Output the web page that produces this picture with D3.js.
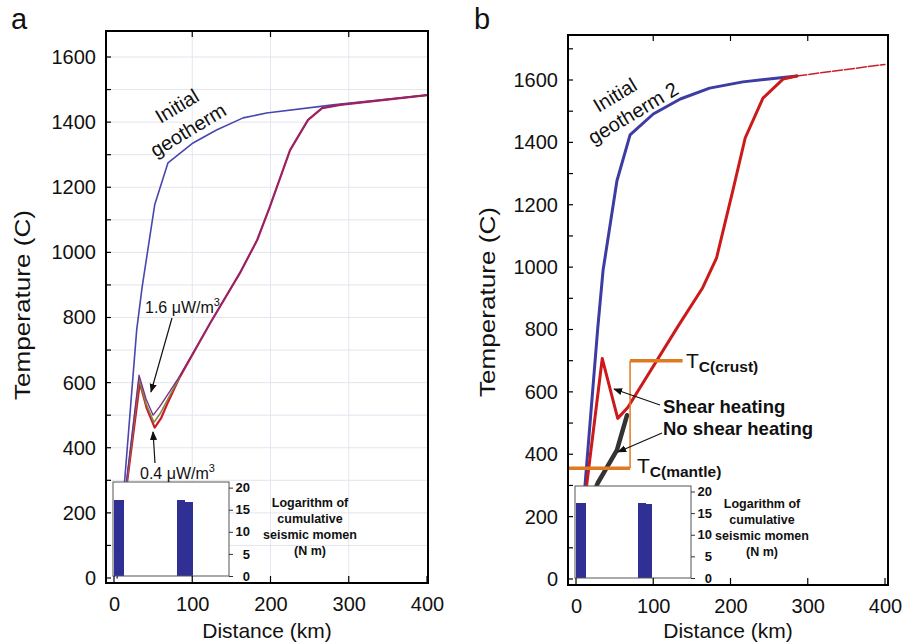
<!DOCTYPE html>
<html><head><meta charset="utf-8">
<script src="https://cdn.jsdelivr.net/npm/d3@7"></script>
<style>body{margin:0;background:#fff}svg{display:block}text{font-family:"Liberation Sans",Arial,Helvetica,sans-serif}</style>
</head><body>
<svg id="chart" width="905" height="644"></svg>
<script>
// ---------- data ----------
const distanceTicks = [0, 100, 200, 300, 400];
const temperatureTicks = [0, 200, 400, 600, 800, 1000, 1200, 1400, 1600];
const insetTicks = [0, 5, 10, 15, 20];
const insetLabelLines = ["Logarithm of", "cumulative", "seismic momen", "(N m)"];

// Panel a
const aInitialDist = [4, 14, 29, 36, 52, 69, 101, 131, 165, 195, 280, 400];
const aInitialTemp = [0, 310, 762, 894, 1146, 1275, 1336, 1376, 1413, 1428, 1453, 1483];
const aLowDist = [14, 17, 33, 42, 52, 60, 69, 84, 123, 161, 183, 199, 225, 248, 266, 289, 400];
const aLowTemp = [240, 300, 599, 520, 462, 490, 540, 617, 783, 937, 1038, 1139, 1314, 1407, 1443, 1453, 1483];
const aMidDist = [15, 17, 32, 41, 51, 59, 69, 84];
const aMidTemp = [260, 310, 610, 535, 478, 505, 550, 617];
const aHighDist = [14, 17, 32, 41, 50, 58, 69, 84, 123, 161, 183, 199, 225, 248, 266, 289, 400];
const aHighTemp = [250, 320, 623, 550, 500, 525, 565, 620, 783, 937, 1038, 1139, 1314, 1407, 1443, 1453, 1483];
const aBarStart = [0, 81, 90];
const aBarEnd = [12, 90, 100];
const aBarValue = [17.1, 17.1, 16.8];

// Panel b
const bInitialDist = [10, 28, 35, 53, 70, 100, 135, 173, 216, 286];
const bInitialTemp = [250, 800, 989, 1277, 1424, 1491, 1539, 1574, 1594, 1613];
const bShearDist = [12, 34, 54, 67, 132, 164, 182, 203, 219, 242, 268, 286];
const bShearTemp = [265, 707, 515, 550, 810, 934, 1030, 1245, 1414, 1542, 1603, 1613];
const bExtDist = [286, 400];
const bExtTemp = [1613, 1650];
const bNoShearDist = [22, 28, 40, 53, 66];
const bNoShearTemp = [270, 307, 358, 413, 525];
const tcCrust = 700;
const tcMantle = 355;
const tcSwitchDist = 70;
const tcCrustEndDist = 138;
const bBarStart = [0, 80, 90];
const bBarEnd = [12, 90, 98];
const bBarValue = [17.3, 17.3, 17.0];

// ---------- drawing ----------
const svg = d3.select("#chart");
svg.append("rect").attr("width", 905).attr("height", 644).attr("fill", "#fff");
const defs = svg.append("defs");
defs.append("marker").attr("id", "arr").attr("viewBox", "0 0 10 10")
  .attr("refX", 9).attr("refY", 5).attr("markerWidth", 9).attr("markerHeight", 9)
  .attr("markerUnits", "userSpaceOnUse").attr("orient", "auto")
  .append("path").attr("d", "M0,1 L10,5 L0,9 Z").attr("fill", "#111");

function zip(xs, ys) { return xs.map((d, i) => [d, ys[i]]); }

function panel(cfg) {
  const g = svg.append("g");
  const x = d3.scaleLinear().domain([0, 400]).range(cfg.xr);
  const y = d3.scaleLinear().domain([0, 1600]).range(cfg.yr);
  const F = cfg.frame; // [left, top, right, bottom]
  const line = d3.line().x(d => x(d[0])).y(d => y(d[1]));

  if (cfg.grid) {
    const gg = g.append("g").attr("stroke", "#e3e5ef").attr("stroke-width", 1);
    d3.range(100, 1700, 100).forEach(t => gg.append("line").attr("x1", F[0]).attr("x2", F[2]).attr("y1", y(t)).attr("y2", y(t)));
    [100, 200, 300].forEach(d => gg.append("line").attr("x1", x(d)).attr("x2", x(d)).attr("y1", F[1]).attr("y2", F[3]));
  }
  const clipId = "clip" + cfg.id;
  defs.append("clipPath").attr("id", clipId).append("rect")
    .attr("x", F[0]).attr("y", F[1]).attr("width", F[2] - F[0]).attr("height", F[3] - F[1]);
  const lg = g.append("g").attr("clip-path", `url(#${clipId})`);
  cfg.series.forEach(s => {
    lg.append("path").attr("d", line(zip(s.x, s.y))).attr("fill", "none")
      .attr("stroke", s.color).attr("stroke-width", s.w)
      .attr("stroke-dasharray", s.dash || null)
      .attr("stroke-linejoin", "round").attr("stroke-linecap", "round");
  });
  if (cfg.extra) cfg.extra(lg, x, y);

  // inset
  const I = cfg.inset; // [left, top, right, bottom]
  const iy = d3.scaleLinear().domain([0, 20]).range([I[3], I[1] + (I[3] - I[1]) * 0.06]);
  const ig = g.append("g");
  ig.append("rect").attr("x", I[0]).attr("y", I[1]).attr("width", I[2] - I[0]).attr("height", I[3] - I[1])
    .attr("fill", "#fff");
  ig.selectAll("rect.bar").data(cfg.bars.s.map((d, i) => ({ s: d, e: cfg.bars.e[i], v: cfg.bars.v[i] })))
    .join("rect").attr("class", "bar").attr("shape-rendering", "crispEdges")
    .attr("x", d => Math.max(I[0], x(d.s))).attr("width", d => x(d.e) - Math.max(I[0], x(d.s)) + 0.5)
    .attr("y", d => iy(d.v)).attr("height", d => I[3] - iy(d.v)).attr("fill", "#2f2f94");
  ig.append("rect").attr("x", I[0]).attr("y", I[1]).attr("width", I[2] - I[0]).attr("height", I[3] - I[1])
    .attr("fill", "none").attr("stroke", "#555").attr("stroke-width", 1);
  const iaxis = d3.axisRight(iy).tickValues(insetTicks).tickSize(4).tickPadding(cfg.insetPad);
  const ia = ig.append("g").attr("transform", `translate(${I[2]},0)`).call(iaxis);
  ia.select(".domain").remove();
  ia.selectAll("text").attr("text-anchor", "end").attr("font-size", 13).attr("font-weight", "bold")
    .attr("font-family", "Liberation Sans, Arial, sans-serif").attr("fill", "#111");
  ia.selectAll("line").attr("stroke", "#333");
  const it = ig.append("text").attr("text-anchor", "middle").attr("font-size", 12.5).attr("font-weight", "bold").attr("fill", "#111");
  insetLabelLines.forEach((l, i) => it.append("tspan").attr("x", cfg.insetText[0]).attr("y", cfg.insetText[1] + i * 16).text(l));

  // frame
  g.append("rect").attr("x", F[0]).attr("y", F[1]).attr("width", F[2] - F[0]).attr("height", F[3] - F[1])
    .attr("fill", "none").attr("stroke", "#000").attr("stroke-width", 2);
  // ticks inward
  const tg = g.append("g").attr("stroke", "#000").attr("stroke-width", 1.2);
  d3.range(0, 1800, 100).filter(t => y(t) > F[1] + 2 && y(t) < F[3] - 1).forEach(t =>
    tg.append("line").attr("x1", F[0]).attr("x2", F[0] + 5).attr("y1", y(t)).attr("y2", y(t)));
  distanceTicks.forEach(d => {
    tg.append("line").attr("x1", x(d)).attr("x2", x(d)).attr("y1", F[3]).attr("y2", F[3] - 7);
    if (d > 0 && d < 400) tg.append("line").attr("x1", x(d)).attr("x2", x(d)).attr("y1", F[1]).attr("y2", F[1] + 6);
  });
  // axes labels via d3 axes (domain/ticks hidden)
  const xa = g.append("g").attr("transform", `translate(0,${F[3]})`)
    .call(d3.axisBottom(x).tickValues(distanceTicks).tickSize(0).tickPadding(cfg.xPad).tickFormat(d3.format("d")));
  const ya = g.append("g").attr("transform", `translate(${F[0]},0)`)
    .call(d3.axisLeft(y).tickValues(temperatureTicks).tickSize(0).tickPadding(cfg.yPad).tickFormat(d3.format("d")));
  [xa, ya].forEach(a => {
    a.select(".domain").remove();
    a.selectAll("text").attr("font-size", 20).attr("fill", "#111").attr("font-family", "Liberation Sans, Arial, sans-serif");
  });
  g.append("text").attr("x", (F[0] + F[2]) / 2 + cfg.xTitleDx).attr("y", 638).attr("text-anchor", "middle")
    .attr("font-size", 21).attr("fill", "#111").text("Distance (km)");
  g.append("text").attr("transform", `translate(${cfg.yTitleX},${cfg.yTitleY}) rotate(-90)`).attr("text-anchor", "middle")
    .attr("font-size", 22).attr("textLength", 190).attr("lengthAdjust", "spacingAndGlyphs")
    .attr("fill", "#111").text("Temperature (C)");
  g.append("text").attr("x", cfg.letter[0]).attr("y", cfg.letter[1]).attr("font-size", 29).attr("fill", "#111").text(cfg.id);
  if (cfg.annot) cfg.annot(g, x, y);
}

function rotLabel(g, cx, cy, ang, txt, fs) {
  g.append("text").attr("transform", `translate(${cx},${cy}) rotate(${ang})`).attr("text-anchor", "middle")
    .attr("dy", "0.35em").attr("font-size", fs).attr("fill", "#111").text(txt);
}
function arrow(g, x1, y1, x2, y2) {
  g.append("line").attr("x1", x1).attr("y1", y1).attr("x2", x2).attr("y2", y2)
    .attr("stroke", "#111").attr("stroke-width", 1.2).attr("marker-end", "url(#arr)");
}
function tcLabel(g, x0, yb, sub) {
  const t = g.append("text").attr("x", x0).attr("y", yb).attr("fill", "#111");
  t.append("tspan").attr("font-size", 21).text("T");
  t.append("tspan").attr("font-size", 15.5).attr("font-weight", "bold").attr("dy", 4).text(sub);
}

panel({
  id: "a", xr: [114, 427], yr: [578, 57], frame: [106, 31, 428, 583], grid: true,
  inset: [113, 482, 229, 576], insetPad: 17, insetText: [310, 507],
  bars: { s: aBarStart, e: aBarEnd, v: aBarValue },
  xPad: 14, yPad: 10, xTitleDx: 0, yTitleX: 30, yTitleY: 305, letter: [11, 29],
  series: [
    { x: aInitialDist, y: aInitialTemp, color: "#4747ad", w: 1.6 },
    { x: aLowDist, y: aLowTemp, color: "#d0182a", w: 2.2 },
    { x: aMidDist, y: aMidTemp, color: "#7d8a3c", w: 1.6 },
    { x: aHighDist, y: aHighTemp, color: "#7a2a8a", w: 1.3 }
  ],
  annot: (g, x, y) => {
    rotLabel(g, 177, 106, -31, "Initial", 20);
    rotLabel(g, 188, 130, -31, "geotherm", 20);
    const t1 = g.append("text").attr("x", 145).attr("y", 313).attr("font-size", 16).attr("fill", "#111");
    t1.append("tspan").text("1.6 μW/m"); t1.append("tspan").attr("font-size", 11).attr("dy", -7).text("3");
    const t2 = g.append("text").attr("x", 140).attr("y", 479).attr("font-size", 16).attr("fill", "#111");
    t2.append("tspan").text("0.4 μW/m"); t2.append("tspan").attr("font-size", 11).attr("dy", -7).text("3");
    arrow(g, 172, 318, 151, 392);
    arrow(g, 155, 463, 153, 432);
  }
});

panel({
  id: "b", xr: [576, 885], yr: [579, 80], frame: [568, 35, 888, 585], grid: false,
  inset: [575, 486, 691, 578], insetPad: 17, insetText: [762, 508],
  bars: { s: bBarStart, e: bBarEnd, v: bBarValue },
  xPad: 14, yPad: 10, xTitleDx: 0, yTitleX: 495, yTitleY: 302, letter: [474, 29],
  series: [
    { x: bInitialDist, y: bInitialTemp, color: "#3c3ca3", w: 3 },
    { x: bExtDist, y: bExtTemp, color: "#c8202a", w: 1.5, dash: "10,2" },
    { x: bNoShearDist, y: bNoShearTemp, color: "#333", w: 4.5 },
    { x: bShearDist, y: bShearTemp, color: "#cc1a1a", w: 3 }
  ],
  extra: (lg, x, y) => {
    const o = "#e07a22";
    lg.append("line").attr("x1", x(tcSwitchDist)).attr("x2", x(tcSwitchDist)).attr("y1", y(tcCrust)).attr("y2", y(tcMantle))
      .attr("stroke", o).attr("stroke-width", 1.5);
    lg.append("line").attr("x1", x(tcSwitchDist)).attr("x2", x(tcCrustEndDist)).attr("y1", y(tcCrust)).attr("y2", y(tcCrust))
      .attr("stroke", o).attr("stroke-width", 3.5);
    lg.append("line").attr("x1", x(-20)).attr("x2", x(tcSwitchDist)).attr("y1", y(tcMantle)).attr("y2", y(tcMantle))
      .attr("stroke", o).attr("stroke-width", 3.5);
  },
  annot: (g, x, y) => {
    rotLabel(g, 615, 95, -31, "Initial", 20);
    rotLabel(g, 633, 113, -31, "geotherm 2", 20);
    tcLabel(g, 686, 368, "C(crust)");
    tcLabel(g, 637, 473, "C(mantle)");
    g.append("text").attr("x", 663).attr("y", 413).attr("font-size", 18.5).attr("font-weight", "bold").attr("fill", "#111").text("Shear heating");
    g.append("text").attr("x", 663).attr("y", 435).attr("font-size", 18.5).attr("font-weight", "bold").attr("fill", "#111").text("No shear heating");
    arrow(g, 660, 405, 614, 389);
    arrow(g, 662, 433, 618, 452);
  }
});
</script>
</body></html>
